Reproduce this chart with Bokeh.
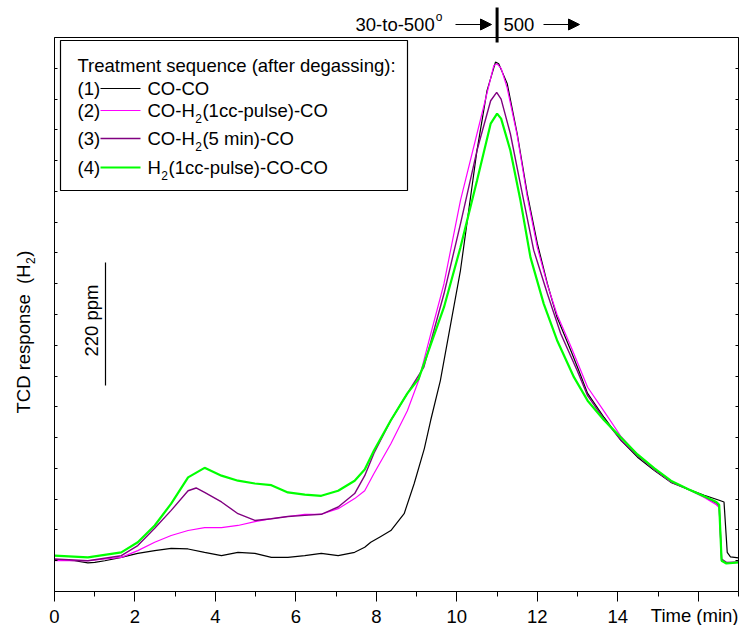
from math import pi
from bokeh.plotting import figure
from bokeh.models import Label, Arrow, NormalHead, LinearAxis, SingleIntervalTicker, FixedTicker, Range1d
from bokeh.embed import file_html
from bokeh.resources import INLINE

# ---------------- data ----------------
time_1 = [0, 0.5, 0.83, 1.0, 1.25, 1.66, 2.07, 2.49, 2.9, 3.32, 3.73, 4.15, 4.56, 4.98, 5.39, 5.8,
          6.22, 6.63, 7.05, 7.46, 7.71, 7.86, 8.1, 8.36, 8.69, 8.94, 9.19, 9.35, 9.59, 9.77, 10.09,
          10.5, 10.75, 10.96, 11.04, 11.25, 11.5, 11.75, 12.0, 12.25, 12.49, 12.83, 13.03, 13.25,
          13.66, 14.08, 14.49, 14.91, 15.32, 15.74, 16.15, 16.52, 16.64, 16.72, 16.8, 17.0]
tcd_1 = [57, 55, 51, 52, 55, 61, 68, 73, 77, 76, 70, 64, 70, 68, 61, 61,
         64, 68, 64, 70, 79, 88, 98, 109, 139, 193, 255, 306, 377, 448, 574,
         788, 895, 946, 943, 908, 818, 711, 622, 550, 490, 431, 395, 354,
         311, 270, 240, 216, 195, 183, 172, 163, 160, 70, 62, 60]

time_2 = [0, 0.83, 1.66, 2.07, 2.49, 2.9, 3.32, 3.73, 4.15, 4.56, 4.98, 5.39, 5.8, 6.22, 6.63,
          7.05, 7.46, 7.71, 7.94, 8.36, 8.77, 9.05, 9.35, 9.68, 10.09, 10.5, 10.92, 11.0,
          11.1, 11.25, 11.5, 11.75, 12.0, 12.25, 12.49, 12.84, 13.25, 13.66, 14.08, 14.49,
          14.91, 15.32, 15.74, 16.15, 16.45, 16.52, 16.58, 16.7, 17.0]
tcd_2 = [55, 55, 61, 73, 88, 100, 109, 114, 114, 118, 125, 130, 134, 138, 138,
         148, 166, 180, 211, 264, 323, 377, 460, 550, 699, 818, 940, 943,
         935, 900, 815, 705, 615, 548, 495, 437, 365, 322, 277, 244,
         218, 196, 183, 168, 155, 150, 55, 50, 52]

time_3 = [0, 0.83, 1.66, 2.07, 2.49, 2.9, 3.32, 3.52, 3.73, 4.15, 4.56, 4.98, 5.39, 5.8, 6.22,
          6.63, 7.05, 7.46, 7.71, 7.94, 8.36, 8.77, 9.18, 9.68, 10.09, 10.5, 10.84, 10.99,
          11.1, 11.33, 11.66, 11.91, 12.25, 12.58, 12.99, 13.25, 13.66, 14.08, 14.49, 14.91,
          15.32, 15.74, 16.15, 16.45, 16.52, 16.58, 16.7, 17.0]
tcd_3 = [58, 55, 64, 82, 113, 145, 180, 185, 177, 160, 139, 127, 130, 134, 136,
         138, 151, 175, 207, 247, 306, 354, 401, 532, 657, 788, 877, 892,
         880, 818, 699, 610, 532, 461, 395, 350, 308, 270, 243, 218,
         197, 183, 170, 158, 153, 58, 52, 53]

time_4 = [0, 0.83, 1.66, 2.07, 2.49, 2.9, 3.32, 3.73, 4.15, 4.56, 4.98, 5.39, 5.8, 6.22, 6.63,
          7.05, 7.46, 7.71, 7.94, 8.36, 8.77, 9.05, 9.68, 10.09, 10.5, 10.84, 11.0,
          11.1, 11.33, 11.58, 11.83, 12.16, 12.49, 12.91, 13.25, 13.66, 14.08, 14.49, 14.91,
          15.32, 15.74, 16.15, 16.45, 16.52, 16.58, 16.7, 17.0]
tcd_4 = [64, 61, 70, 88, 118, 157, 204, 221, 207, 198, 193, 190, 177, 173, 171,
         180, 198, 218, 252, 306, 354, 380, 508, 615, 734, 836, 854,
         845, 788, 699, 597, 514, 449, 383, 341, 306, 275, 245, 220,
         198, 183, 170, 160, 155, 55, 50, 52]

series_ids = ["(1)", "(2)", "(3)", "(4)"]
series_colors = ["#000000", "#FF00FF", "#800080", "#00FF00"]
series_widths = [1.2, 1.2, 1.4, 2.2]
x_label_ticks = [0, 2, 4, 6, 8, 10, 12, 14]
x_unlabelled_major = [16]
x_minor_ticks = list(range(0, 18))
y_ticks_interval = 55
scale_bar_ppm = 220
legend_title = "Treatment sequence (after degassing):"
legend_parts = [
    [("CO-CO", False)],
    [("CO-H", False), ("2", True), ("(1cc-pulse)-CO", False)],
    [("CO-H", False), ("2", True), ("(5 min)-CO", False)],
    [("H", False), ("2", True), ("(1cc-pulse)-CO-CO", False)],
]
peak_split_time = 11.0

# ---------------- layout helpers ----------------
FONT = "Liberation Sans"
FS = 18.5
SUB = 12
W, H = 740, 625
FL, FR, FT, FB = 54, 738, 37, 591
X0, X1, Y0, Y1 = 0.0, 17.0, 0.0, 990.0


def dx(px):
    return X0 + (px - FL) * (X1 - X0) / (FR - FL)


def dy(py):
    return Y0 + (FB - py) * (Y1 - Y0) / (FB - FT)


AW = {' ': 278, '\u00a0': 278, '(': 333, ')': 333, '-': 333, ':': 278, 'C': 722, 'D': 722,
      'H': 722, 'O': 778, 'T': 611, 'a': 556, 'c': 500, 'd': 556, 'e': 556, 'f': 278, 'g': 556,
      'i': 222, 'l': 222, 'm': 833, 'n': 556, 'o': 556, 'p': 556, 'q': 556, 'r': 333, 's': 500,
      't': 278, 'u': 556}


def tw(s, size):
    return sum(AW.get(c, 556) for c in s) * size / 1000.0


# frame covers the whole canvas; axes are placed at fixed data locations
p = figure(width=W, height=H, x_range=Range1d(dx(0), dx(W)), y_range=Range1d(dy(H), dy(0)),
           output_backend="svg", toolbar_location=None, min_border=0,
           x_axis_location=None, y_axis_location=None,
           background_fill_color="white", border_fill_color="white")
p.grid.visible = False
p.outline_line_color = None


def style_axis(ax):
    ax.axis_line_color = "black"
    ax.axis_line_width = 1
    ax.major_tick_line_color = "black"
    ax.minor_tick_line_color = "black"
    ax.major_label_text_font = FONT
    ax.major_label_text_font_size = f"{FS}px"
    ax.major_label_text_color = "black"


# bottom axis with labels
xb = LinearAxis(fixed_location=Y0, bounds=(X0, X1),
                ticker=FixedTicker(ticks=x_label_ticks, minor_ticks=x_minor_ticks))
style_axis(xb)
xb.major_tick_in = 0
xb.major_tick_out = 10
xb.minor_tick_in = 0
xb.minor_tick_out = 5
xb.major_label_standoff = 8
p.add_layout(xb, "below")

# long tick at 16 without a number (its place is taken by the axis title)
xb2 = LinearAxis(fixed_location=Y0, bounds=(X0, X1), ticker=FixedTicker(ticks=x_unlabelled_major))
style_axis(xb2)
xb2.axis_line_color = None
xb2.major_label_text_color = None
xb2.major_tick_in = 0
xb2.major_tick_out = 10
xb2.minor_tick_line_color = None
p.add_layout(xb2, "below")

# top border
xt = LinearAxis(fixed_location=Y1, bounds=(X0, X1), ticker=FixedTicker(ticks=[]))
style_axis(xt)
xt.major_label_text_color = None
xt.major_tick_line_color = None
xt.minor_tick_line_color = None
p.add_layout(xt, "above")

# left and right axes: inward ticks, no numbers
for loc, side in ((X0, "left"), (X1, "right")):
    ax = LinearAxis(fixed_location=loc, bounds=(Y0, Y1),
                    ticker=SingleIntervalTicker(interval=y_ticks_interval, num_minor_ticks=0))
    style_axis(ax)
    ax.major_label_text_color = None
    ax.major_tick_in = 3
    ax.major_tick_out = 0
    ax.minor_tick_line_color = None
    p.add_layout(ax, side)

# data lines
all_t = [time_1, time_2, time_3, time_4]
all_y = [tcd_1, tcd_2, tcd_3, tcd_4]
for t, y, c, w in zip(all_t, all_y, series_colors, series_widths):
    p.line(t, y, line_color=c, line_width=w)

# legend box
p.quad(left=dx(60), right=dx(407), top=dy(40), bottom=dy(190),
       fill_color="white", line_color="black", line_width=1.2)


def lab(px, py, text, size=FS, align="left", baseline="middle", angle=0.0):
    p.add_layout(Label(x=dx(px), y=dy(py), text=text, text_font=FONT,
                       text_font_size=f"{size}px", text_color="black",
                       text_align=align, text_baseline=baseline, angle=angle))


lab(77, 65, legend_title)
row_y = [88, 110, 138, 167]
for sid, ry, c, w, parts in zip(series_ids, row_y, series_colors, series_widths, legend_parts):
    lab(77, ry, sid)
    p.line([dx(100), dx(140)], [dy(ry), dy(ry)], line_color=c, line_width=w)
    cx = 147
    for txt, sub in parts:
        if sub:
            lab(cx + 0.5, ry + 8, txt, size=SUB)
            cx += tw(txt, SUB) + 1
        else:
            lab(cx, ry, txt)
            cx += tw(txt, FS)

# y-axis title, rotated, with subscript (non-breaking spaces keep the wide gap)
ytitle = "TCD response\u00a0\u00a0(H"
ystart = 413
lab(23, ystart, ytitle, angle=pi / 2)
yy = ystart - tw(ytitle, FS)
lab(30, yy - 0.5, "2", size=SUB, angle=pi / 2)
yy -= tw("2", SUB) + 1
lab(23, yy, ")", angle=pi / 2)

# x-axis title
lab(738, 615, "Time (min)", align="right")

# scale bar
sb_bottom = dy(385)
p.line([dx(105), dx(105)], [sb_bottom, sb_bottom + scale_bar_ppm], line_color="black", line_width=1.2)
lab(91, 320, f"{scale_bar_ppm} ppm", align="center", angle=pi / 2)

# top temperature-program annotation
t1 = "30-to-500"
lab(355, 24, t1)
lab(355 + tw(t1, FS) + 1, 16, "o", size=SUB)
p.add_layout(Arrow(x_start=dx(455), y_start=dy(24), x_end=dx(491), y_end=dy(24),
                   line_color="black", line_width=1.2,
                   end=NormalHead(size=11, fill_color="black", line_color="black")))
p.add_layout(Arrow(x_start=peak_split_time, y_start=dy(7), x_end=peak_split_time, y_end=dy(42),
                   line_color="black", line_width=3, end=None))
lab(503, 24, "500")
p.add_layout(Arrow(x_start=dx(543), y_start=dy(24), x_end=dx(579), y_end=dy(24),
                   line_color="black", line_width=1.2,
                   end=NormalHead(size=11, fill_color="black", line_color="black")))

open("out.html", "w").write(file_html(p, INLINE))
